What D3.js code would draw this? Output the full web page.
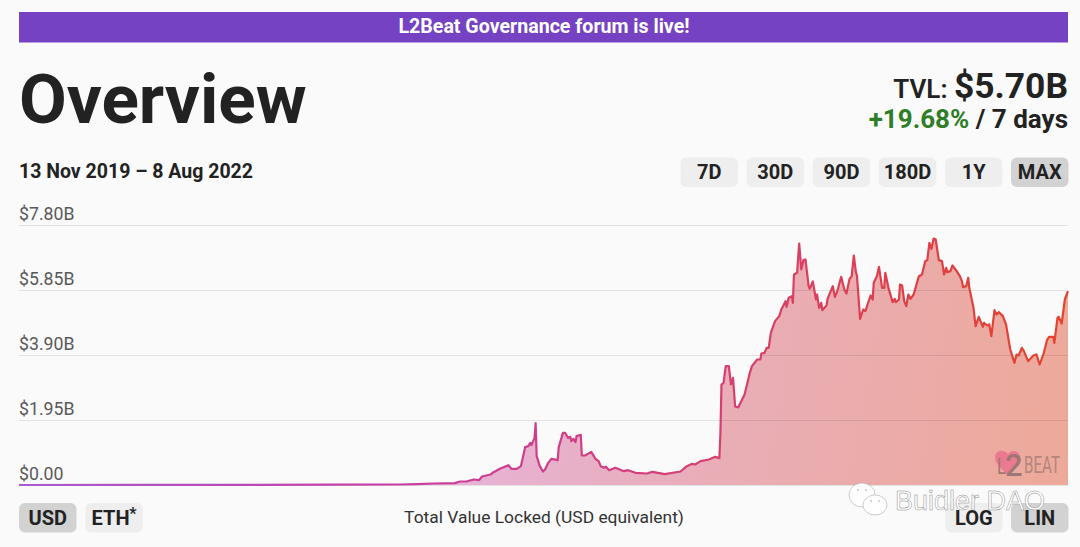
<!DOCTYPE html>
<html>
<head>
<meta charset="utf-8">
<script src="https://cdn.jsdelivr.net/npm/d3@7"></script>
<style>
  html, body { margin: 0; padding: 0; background: #fafafa; }
  svg { display: block; font-family: Roboto, sans-serif; }
</style>
</head>
<body>
<div id="chart"></div>
<script>
const startDate = new Date(2019, 10, 13);
const endDate = new Date(2022, 7, 8);

// days since 13 Nov 2019
const tvlDays = [0,100,200,300,363,379,395,415,420,426,433,438,441,449,452,458,466,469,474,478,482,485,487,488,491,492,493,496,499,501,504,507,513,514,518,520,523,525,526,528,530,531,535,536,539,545,549,552,554,557,559,562,568,576,580,587,598,603,615,630,636,641,644,649,657,663,667,668,669,671,673,676,678,680,682,685,691,696,698,703,706,707,710,712,714,716,720,724,726,730,731,733,736,737,738,741,743,745,747,749,752,753,756,759,760,762,764,765,769,770,775,777,779,783,786,788,791,793,795,797,798,801,804,806,811,813,814,817,819,822,824,825,828,832,834,835,838,839,841,843,845,847,849,852,857,860,863,865,867,869,871,873,876,879,881,883,884,887,889,893,896,898,899,902,904,905,909,911,914,918,919,922,924,926,929,931,933,937,940,944,948,950,952,955,957,961,966,969,972,976,979,981,985,986,989,990,993,996,999];
// TVL in billions of USD
const tvlValues = [0,0.002,0.005,0.01,0.015,0.025,0.045,0.055,0.105,0.105,0.165,0.145,0.255,0.315,0.385,0.485,0.595,0.485,0.485,0.565,1.135,1.165,1.265,1.195,1.415,1.855,0.865,0.565,0.405,0.465,0.665,0.785,0.745,1.135,1.565,1.565,1.415,1.445,1.315,1.385,1.285,1.465,1.505,0.885,0.885,0.995,0.785,0.715,0.565,0.515,0.545,0.445,0.515,0.415,0.445,0.365,0.345,0.395,0.325,0.405,0.565,0.635,0.615,0.715,0.765,0.845,0.805,1.565,3.015,3.065,3.565,3.565,3.015,3.215,2.355,2.33,2.715,3.365,3.565,3.765,3.765,3.945,3.965,4.115,4.115,4.565,4.915,5.065,5.265,5.515,5.345,5.615,5.665,5.465,6.315,6.365,7.245,6.465,6.745,6.765,5.965,5.885,6.105,5.565,5.715,5.315,5.465,5.245,5.385,5.585,5.965,5.645,5.785,6.245,5.865,5.745,6.185,6.265,6.885,6.385,6.285,4.985,5.265,5.215,5.685,5.565,6.065,6.265,6.545,5.915,5.915,6.365,5.915,5.485,5.585,5.485,5.565,6.015,5.985,5.515,5.365,5.715,5.585,5.715,6.265,6.315,6.715,6.745,7.265,7.085,7.395,7.365,6.745,6.715,6.315,6.515,6.385,6.415,6.585,6.415,6.265,6.115,5.935,5.965,6.215,5.915,5.315,4.765,5.045,4.745,4.865,4.785,4.815,4.465,5.245,5.115,5.185,5.065,4.815,4.065,3.665,3.915,3.885,4.115,4.015,3.715,3.885,3.915,3.615,3.965,4.345,4.445,4.445,4.265,5.015,5.045,4.845,5.565,5.815];

const yTicks = [0, 1.95, 3.9, 5.85, 7.8];
const yTickLabels = ["$0.00", "$1.95B", "$3.90B", "$5.85B", "$7.80B"];
const rangeButtons = ["7D", "30D", "90D", "180D", "1Y", "MAX"];
const unitButtons = ["USD", "ETH"];
const scaleButtons = ["LOG", "LIN"];

const width = 1080, height = 547;
const margin = {left: 19, right: 12, top: 225, bottom: 62};
const ink = "#222222";

const svg = d3.select("#chart")
    .append("svg")
    .attr("width", width)
    .attr("height", height);

svg.append("rect").attr("width", width).attr("height", height).attr("fill", "#fafafa");

const x = d3.scaleTime()
    .domain([startDate, endDate])
    .range([margin.left, width - margin.right]);
const y = d3.scaleLinear()
    .domain([0, 7.8])
    .range([height - margin.bottom, margin.top]);

const tvlData = tvlDays.map((d, i) => ({date: d3.timeDay.offset(startDate, d), value: tvlValues[i]}));

// gradients
const defs = svg.append("defs");
function addGradient(id, stops) {
    const g = defs.append("linearGradient")
        .attr("id", id)
        .attr("gradientUnits", "userSpaceOnUse")
        .attr("x1", margin.left).attr("y1", margin.top + 60)
        .attr("x2", width - margin.right).attr("y2", height - margin.bottom);
    stops.forEach(s => g.append("stop").attr("offset", s[0]).attr("stop-color", s[1]));
}
addGradient("lineGrad", [[0, "#a45fd6"], [0.35, "#c53ea8"], [0.65, "#d63f72"], [0.85, "#df4040"], [1, "#e6462a"]]);
addGradient("fillGrad", [[0, "#e4bdf0"], [0.45, "#e7b2d3"], [0.68, "#e9adb6"], [1, "#eda999"]]);

// banner
svg.append("rect")
    .attr("x", 19).attr("y", 12)
    .attr("width", 1049).attr("height", 30.5)
    .attr("fill", "#7542c4");
svg.append("text")
    .attr("x", 544).attr("y", 33)
    .attr("text-anchor", "middle")
    .attr("fill", "#ffffff")
    .attr("font-size", 19.6).attr("font-weight", 700)
    .text("L2Beat Governance forum is live!");

// heading
svg.append("text")
    .attr("x", 19).attr("y", 123)
    .attr("fill", ink)
    .attr("font-size", 69.3).attr("font-weight", 700)
    .text("Overview");

const tvlText = svg.append("text")
    .attr("x", 1068).attr("y", 98)
    .attr("text-anchor", "end")
    .attr("fill", ink)
    .attr("font-weight", 700);
tvlText.append("tspan").attr("font-size", 26).attr("font-weight", 600).text("TVL: ");
tvlText.append("tspan").attr("font-size", 35.4).text("$5.70B");

const changeText = svg.append("text")
    .attr("x", 1068).attr("y", 128)
    .attr("text-anchor", "end")
    .attr("fill", ink)
    .attr("font-size", 26).attr("font-weight", 700);
changeText.append("tspan").attr("fill", "#2f7d26").text("+19.68%");
changeText.append("tspan").text(" / 7 days");

svg.append("text")
    .attr("x", 19).attr("y", 178)
    .attr("fill", ink)
    .attr("font-size", 19.5).attr("font-weight", 700)
    .text("13 Nov 2019 – 8 Aug 2022");

// buttons
function drawButton(label, left, top, active, textShift) {
    svg.append("rect")
        .attr("x", left).attr("y", top)
        .attr("width", 57.5).attr("height", 29.5)
        .attr("rx", 6)
        .attr("fill", active ? "#d2d2d2" : "#eeeeee");
    svg.append("text")
        .attr("x", left + 28.75 + textShift).attr("y", top + 21.5)
        .attr("text-anchor", "middle")
        .attr("fill", ink)
        .attr("font-size", 20).attr("font-weight", 700)
        .text(label);
}
rangeButtons.forEach((b, i) => drawButton(b, 680.5 + i * 66.1, 157.5, b == "MAX", 0));
unitButtons.forEach((b, i) => drawButton(b, 19 + i * 66.3, 503, b == "USD", b == "ETH" ? -3.5 : 0));
scaleButtons.forEach((b, i) => drawButton(b, 945 + i * 66, 503, b == "LIN", 0));
svg.append("text")
    .attr("x", 133).attr("y", 519)
    .attr("text-anchor", "middle")
    .attr("fill", ink)
    .attr("font-size", 16).attr("font-weight", 700)
    .text("*");

// area
svg.append("path")
    .datum(tvlData)
    .attr("fill", "url(#fillGrad)")
    .attr("d", d3.area().x(d => x(d.date)).y0(y(0)).y1(d => y(d.value)));

// grid and tick labels
const yAxis = d3.axisLeft(y)
    .tickValues(yTicks)
    .tickSize(-(width - margin.left - margin.right))
    .tickFormat((d, i) => yTickLabels[i]);
const yAxisG = svg.append("g")
    .attr("transform", `translate(${margin.left},0)`)
    .call(yAxis);
yAxisG.select(".domain").remove();
yAxisG.selectAll(".tick line")
    .attr("stroke", "#000000")
    .attr("stroke-opacity", 0.09)
    .attr("stroke-width", 1.2);
yAxisG.selectAll(".tick text")
    .attr("x", 0).attr("dy", -5.5)
    .attr("y", 0)
    .attr("text-anchor", "start")
    .attr("font-family", "Roboto, sans-serif")
    .attr("font-size", 17.7)
    .attr("fill", "#595959");

// line
svg.append("path")
    .datum(tvlData)
    .attr("fill", "none")
    .attr("stroke", "url(#lineGrad)")
    .attr("stroke-width", 2.2)
    .attr("stroke-linejoin", "round")
    .attr("d", d3.line().x(d => x(d.date)).y(d => y(d.value)));

// footer label
svg.append("text")
    .attr("x", 544).attr("y", 523)
    .attr("text-anchor", "middle")
    .attr("fill", "#333333")
    .attr("font-size", 17.4)
    .text("Total Value Locked (USD equivalent)");

// L2BEAT mark
const logo = svg.append("g").attr("opacity", 0.8);
logo.append("path")
    .attr("d", "M1007 474 C1000 468 995 463 995 457 C995 451 1003 448 1008 454 C1013 448 1021 452 1020 458 C1019 464 1013 469 1007 474 Z")
    .attr("fill", "#ea6f8c");
logo.append("text")
    .attr("x", 997).attr("y", 474)
    .attr("fill", "#8d6a6a").attr("font-size", 22)
    .attr("textLength", 9).attr("lengthAdjust", "spacingAndGlyphs")
    .text("L");
logo.append("text")
    .attr("x", 1005).attr("y", 476)
    .attr("fill", "#8d6a6a").attr("font-size", 31).attr("font-weight", 500)
    .text("2");
logo.append("text")
    .attr("x", 1024).attr("y", 473)
    .attr("fill", "#a87c78").attr("font-size", 23)
    .attr("textLength", 36).attr("lengthAdjust", "spacingAndGlyphs")
    .text("BEAT");

// watermark
const mark = svg.append("g");
[[862, 495, 13, 12], [875, 505, 12, 10]].forEach(b => {
    mark.append("ellipse")
        .attr("cx", b[0]).attr("cy", b[1])
        .attr("rx", b[2]).attr("ry", b[3])
        .attr("fill", "#ffffff")
        .attr("stroke", "#9a9a9a").attr("stroke-width", 0.5);
});
[[858, 490], [866, 490], [871, 501], [879, 501]].forEach(e => {
    mark.append("circle").attr("cx", e[0]).attr("cy", e[1]).attr("r", 1).attr("fill", "#c8c8c8");
});
svg.append("text")
    .attr("x", 895).attr("y", 510)
    .attr("fill", "#ffffff")
    .attr("stroke", "#8f8f8f").attr("stroke-width", 0.5)
    .attr("font-family", "Liberation Sans, sans-serif")
    .attr("font-size", 27)
    .text("Buidler DAO");
</script>
</body>
</html>
